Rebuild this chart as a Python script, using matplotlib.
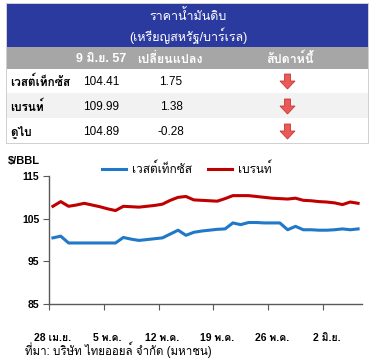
import matplotlib
matplotlib.use("Agg")
import matplotlib.pyplot as plt
from matplotlib.patches import Rectangle, Polygon

plt.rcParams['font.family'] = ['Liberation Sans', 'Loma', 'DejaVu Sans']

# ---- data ----
names = ["เวสต์เท็กซัส", "เบรนท์", "ดูไบ"]
price_today = ["104.41", "109.99", "104.89"]
price_change = ["1.75", "1.38", "-0.28"]

tick_labels = ["28 เม.ย.", "5 พ.ค.", "12 พ.ค.", "19 พ.ค.", "26 พ.ค.", "2 มิ.ย."]

# daily values, 28 Apr .. 6 Jun
wti = [100.5, 100.9, 99.3, 99.3, 99.3, 99.3, 99.3, 99.3, 99.3, 100.6,
       100.2, 99.9, 100.1, 100.3, 100.5, 101.4, 102.3, 101.1, 101.8, 102.1,
       102.3, 102.5, 102.6, 104.0, 103.6, 104.1, 104.1, 104.0, 104.0, 104.0,
       102.4, 103.2, 102.4, 102.4, 102.3, 102.3, 102.4, 102.6, 102.4, 102.6]
brent = [107.9, 109.0, 107.9, 108.2, 108.6, 108.2, 107.8, 107.3, 106.9, 107.9,
         107.8, 107.7, 107.9, 108.1, 108.4, 109.3, 110.0, 110.2, 109.4, 109.3,
         109.2, 109.1, 109.7, 110.4, 110.4, 110.4, 110.2, 110.0, 109.8, 109.7,
         109.6, 109.8, 109.3, 109.2, 109.0, 108.9, 108.7, 108.3, 108.9, 108.6]

W, H = 378, 358
fig = plt.figure(figsize=(W / 100, H / 100), dpi=100)


def fx(px):
    return px / W


def fy(py):
    return 1 - py / H


def rect(x0, y0, x1, y1, color, **kw):
    fig.patches.append(Rectangle((fx(x0), fy(y1)), fx(x1) - fx(x0), fy(y0) - fy(y1),
                                 transform=fig.transFigure, facecolor=color,
                                 edgecolor="none", **kw))


# ---- table ----
rect(6, 3, 369, 144, "#d0d0d0")
rect(7, 4, 368, 143, "white")
rect(7, 4, 368, 47, "#2b3a9f")
rect(7, 47, 368, 69, "#a6a6a6")
rect(7, 93, 368, 118, "#f2f2f2")

fig.text(fx(188), fy(16), "ราคาน้ำมันดิบ", color="white", ha="center", va="center", fontsize=9)
fig.text(fx(188), fy(36), "(เหรียญสหรัฐ/บาร์เรล)", color="white", ha="center", va="center", fontsize=9)

hdr_y = fy(59)
fig.text(fx(101), hdr_y, "9 มิ.ย. 57", color="white", ha="center", va="center", fontsize=9, fontweight="bold")
fig.text(fx(170), hdr_y, "เปลี่ยนแปลง", color="white", ha="center", va="center", fontsize=9, fontweight="bold")
fig.text(fx(290), hdr_y, "สัปดาห์นี้", color="white", ha="center", va="center", fontsize=9, fontweight="bold")

row_y = [82, 107, 132]
for i in range(3):
    y = fy(row_y[i])
    fig.text(fx(10), y, names[i], ha="left", va="center", fontsize=8.5, fontweight="bold")
    fig.text(fx(101), y, price_today[i], ha="center", va="center", fontsize=8.5)
    fig.text(fx(171), y, price_change[i], ha="center", va="center", fontsize=8.5)
    # red down arrow
    cx, top = 287.5, row_y[i] - 8
    pts = [(cx - 3, top), (cx + 3, top), (cx + 3, top + 7), (cx + 7.5, top + 7),
           (cx, top + 15), (cx - 7.5, top + 7), (cx - 3, top + 7)]
    fig.patches.append(Polygon([(fx(a), fy(b)) for a, b in pts], closed=True,
                               transform=fig.transFigure, facecolor="#ec5a57",
                               edgecolor="#c23a38", linewidth=0.6))

# ---- chart ----
ax = fig.add_axes([fx(49), fy(304), fx(362) - fx(49), fy(176) - fy(304)])
x = list(range(len(wti)))
ax.plot(x, wti, color="#1f78c8", linewidth=2.2, label="เวสต์เท็กซัส")
ax.plot(x, brent, color="#c00000", linewidth=2.2, label="เบรนท์")

ax.set_xlim(-0.5, len(wti) - 0.5)
ax.set_ylim(85, 115)
ax.set_yticks([85, 95, 105, 115])
ax.set_yticklabels(["85", "95", "105", "115"], fontsize=7.5, fontweight="bold")

ax.set_xticks([i - 0.5 for i in range(0, 36, 7)])
ax.set_xticklabels([])
ax.set_xticks(list(range(0, 36, 7)), minor=True)
ax.set_xticklabels(tick_labels, minor=True, fontsize=7.5, fontweight="bold")
ax.tick_params(axis="x", which="minor", length=0, pad=21)
ax.tick_params(axis="x", which="major", direction="out", length=4, color="#595959")
ax.tick_params(axis="y", direction="out", length=4, color="#595959", pad=3)

for s in ["top", "right"]:
    ax.spines[s].set_visible(False)
for s in ["left", "bottom"]:
    ax.spines[s].set_color("#595959")
    ax.spines[s].set_linewidth(1.0)

ax.legend(loc="center", bbox_to_anchor=(0.44, 1.055), ncol=2, frameon=False,
          fontsize=8.5, handlelength=2.0, handletextpad=0.5, columnspacing=1.4)

fig.text(fx(8), fy(161), "$/BBL", ha="left", va="center", fontsize=8, fontweight="bold")
fig.text(fx(25), fy(350), "ที่มา: บริษัท ไทยออยล์ จำกัด (มหาชน)", ha="left", va="center", fontsize=8.3)

fig.savefig("out.png", dpi=100)
